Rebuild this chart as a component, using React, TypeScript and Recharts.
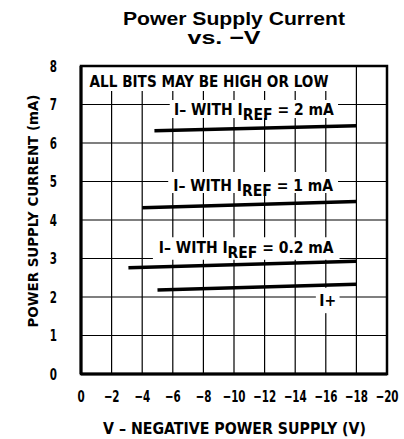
import { LineChart, Line, XAxis, YAxis, CartesianGrid, ReferenceArea } from "recharts";

// axis ticks
const voltTicks = [0, -2, -4, -6, -8, -10, -12, -14, -16, -18, -20];
const currentTicks = [0, 1, 2, 3, 4, 5, 6, 7, 8];

// curves: supply volts (V) / current (mA)
const iref2Volts = [-4.8, -18];
const iref2Current = [6.32, 6.45];
const iref1Volts = [-4.0, -18];
const iref1Current = [4.32, 4.48];
const iref02Volts = [-3.1, -18];
const iref02Current = [2.76, 2.93];
const iPlusVolts = [-5.0, -18];
const iPlusCurrent = [2.18, 2.33];

const labelTop = "ALL BITS MAY BE HIGH OR LOW";
const labelIref2 = ["I– WITH I", "REF", " = 2 mA"];
const labelIref1 = ["I– WITH I", "REF", " = 1 mA"];
const labelIref02 = ["I– WITH I", "REF", " = 0.2 mA"];
const labelIPlus = "I+";

const toPoints = (xs: number[], ys: number[]) => xs.map((v, k) => ({ v, i: ys[k] }));

const series = [
  { name: "iref2", data: toPoints(iref2Volts, iref2Current) },
  { name: "iref1", data: toPoints(iref1Volts, iref1Current) },
  { name: "iref02", data: toPoints(iref02Volts, iref02Current) },
  { name: "iplus", data: toPoints(iPlusVolts, iPlusCurrent) },
];

const narrow = "'DejaVu Sans Condensed', 'DejaVu Sans', sans-serif";
const fmtVolt = (v: number) => (v === 0 ? "0" : "\u2212" + Math.abs(v));

// tick text squeezed horizontally to look like the narrow face of the original
function squeezedTick(side: "x" | "y") {
  return (p: any) => (
    <g transform={`translate(${p.x},${p.y}) scale(0.72,1)`}>
      <text
        x={0}
        y={0}
        dy={side === "x" ? "0.73em" : "0.36em"}
        textAnchor={side === "x" ? "middle" : "end"}
        fontFamily={narrow}
        fontWeight={700}
        fontSize={16}
        fill="#000"
      >
        {side === "x" ? fmtVolt(p.payload.value) : p.payload.value}
      </text>
    </g>
  );
}

// label drawn inside a white mask box; baseline measured from the box top
function annotation(
  parts: string | string[],
  baseline: number,
  opts: { start?: number; size?: number; sx?: number } = {}
) {
  return (props: any) => {
    const { x, y, width } = props.viewBox;
    const size = opts.size ?? 16;
    const anchored = opts.start !== undefined;
    const tx = anchored ? x + (opts.start as number) : x + width / 2;
    const common: any = {
      x: 0,
      y: 0,
      textAnchor: anchored ? "start" : "middle",
      fontFamily: narrow,
      fontWeight: 700,
      fontSize: size,
      fill: "#000",
    };
    return (
      <g transform={`translate(${tx},${y + baseline}) scale(${opts.sx ?? 1},1)`}>
        {typeof parts === "string" ? (
          <text {...common}>{parts}</text>
        ) : (
          <text {...common}>
            {parts[0]}
            <tspan dy={5}>{parts[1]}</tspan>
            <tspan dy={-5}>{parts[2]}</tspan>
          </text>
        )}
      </g>
    );
  };
}

export default function App() {
  return (
    <div style={{ position: "absolute", left: 0, top: 0, width: 404, height: 439, background: "#fff" }}>
      <LineChart width={404} height={439} margin={{ top: 66, right: 17, bottom: 0, left: 0 }}>
        <CartesianGrid stroke="#000" strokeWidth={1.2} />
        <XAxis
          dataKey="v"
          type="number"
          domain={[-20, 0]}
          reversed
          ticks={voltTicks}
          interval={0}
          height={65}
          tickLine={false}
          tickMargin={10}
          axisLine={{ stroke: "#000", strokeWidth: 3 }}
          tick={squeezedTick("x")}
        />
        <YAxis
          type="number"
          domain={[0, 8]}
          ticks={currentTicks}
          interval={0}
          width={81}
          tickLine={false}
          tickMargin={18}
          axisLine={{ stroke: "#000", strokeWidth: 3 }}
          tick={squeezedTick("y")}
        />
        <ReferenceArea x1={-0.1} x2={-17.5} y1={7.35} y2={7.98} fill="#fff" fillOpacity={1} stroke="none"
          label={annotation(labelTop, 20, { start: 7, size: 15, sx: 1.01 })} />
        <ReferenceArea x1={-5.8} x2={-16.8} y1={6.65} y2={7.12} fill="#fff" fillOpacity={1} stroke="none"
          label={annotation(labelIref2, 15, { size: 16.5, sx: 0.94 })} />
        <ReferenceArea x1={-5.7} x2={-16.8} y1={4.7} y2={5.25} fill="#fff" fillOpacity={1} stroke="none"
          label={annotation(labelIref1, 19, { size: 16.5, sx: 0.94 })} />
        <ReferenceArea x1={-4.7} x2={-16.9} y1={2.97} y2={3.55} fill="#fff" fillOpacity={1} stroke="none"
          label={annotation(labelIref02, 15.5, { size: 16.5, sx: 0.94 })} />
        <ReferenceArea x1={-15.35} x2={-16.9} y1={1.58} y2={2.24} fill="#fff" fillOpacity={1} stroke="none"
          label={annotation(labelIPlus, 18, { size: 16.5, sx: 0.94 })} />
        {series.map((s) => (
          <Line
            key={s.name}
            data={s.data}
            dataKey="i"
            type="linear"
            stroke="#000"
            strokeWidth={3.6}
            dot={false}
            activeDot={false}
            isAnimationActive={false}
          />
        ))}
        <ReferenceArea x1={0} x2={-20} y1={0} y2={8} fill="none" stroke="#000" strokeWidth={2.5} />
      </LineChart>
      <svg width={404} height={439} style={{ position: "absolute", left: 0, top: 0, pointerEvents: "none" }}>
        <text x={234} y={25} textAnchor="middle" fontFamily="'Liberation Sans', Arial, sans-serif" fontWeight={700}
          fontSize={19} textLength={222} lengthAdjust="spacingAndGlyphs">
          Power Supply Current
        </text>
        <text x={224} y={44} textAnchor="middle" fontFamily="'Liberation Sans', Arial, sans-serif" fontWeight={700}
          fontSize={19} textLength={73} lengthAdjust="spacingAndGlyphs">
          vs. {"\u2212"}V
        </text>
        <text x={38} y={211} transform="rotate(-90 38 211)" textAnchor="middle" fontFamily={narrow} fontWeight={700}
          fontSize={14} textLength={233} lengthAdjust="spacingAndGlyphs">
          POWER SUPPLY CURRENT (mA)
        </text>
        <text x={234.5} y={434} textAnchor="middle" fontFamily={narrow} fontWeight={700} fontSize={15.5}
          textLength={263} lengthAdjust="spacingAndGlyphs">
          V – NEGATIVE POWER SUPPLY (V)
        </text>
      </svg>
    </div>
  );
}
